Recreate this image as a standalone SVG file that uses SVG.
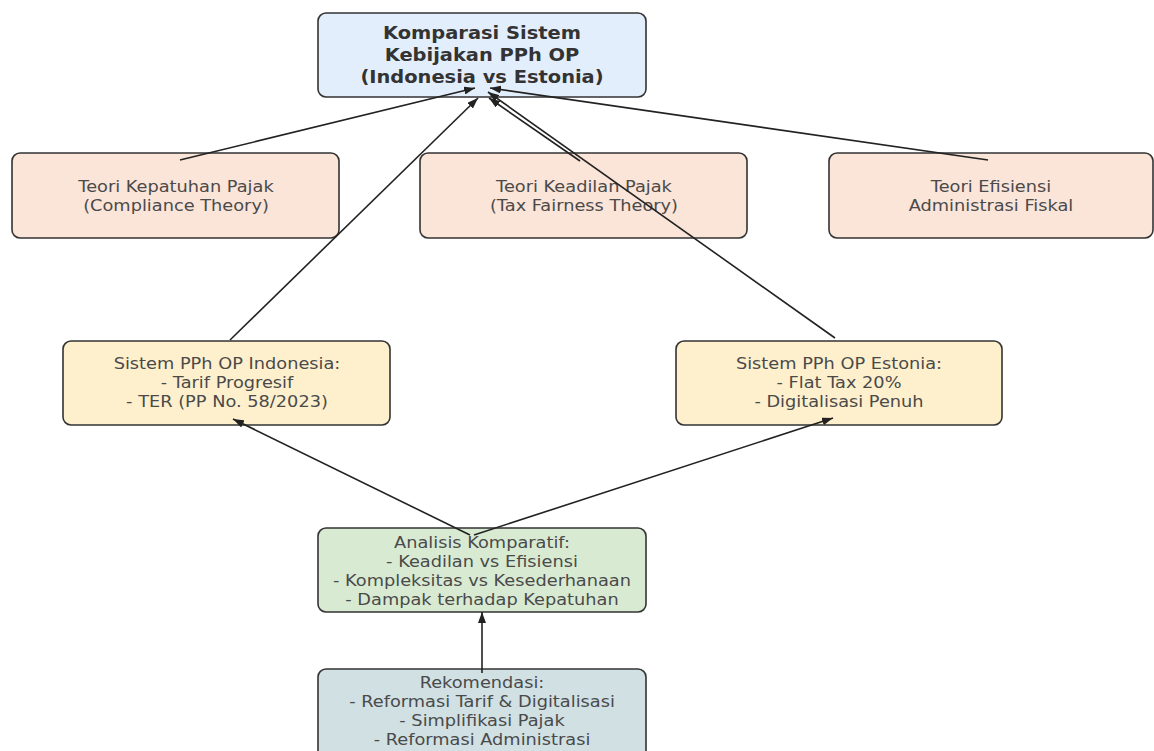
<svg xmlns="http://www.w3.org/2000/svg" width="1154" height="751" viewBox="0 0 1154 751">
<style>
.box{stroke:#333;stroke-width:1.6}
.t{font-family:"DejaVu Sans",sans-serif;font-size:16px;fill:#4a4a4a;text-anchor:middle}
.tb{font-family:"DejaVu Sans",sans-serif;font-size:18px;font-weight:bold;fill:#333;text-anchor:middle}
.e{stroke:#222;stroke-width:1.6;fill:none;marker-end:url(#ah)}
</style>
<defs>
<marker id="ah" markerUnits="userSpaceOnUse" markerWidth="12" markerHeight="8" refX="11" refY="4" orient="auto">
<path d="M0,0 L11,4 L0,8 z" fill="#222"/>
</marker>
</defs>
<rect width="1154" height="751" fill="#fff"/>
<g id="top">
<rect class="box" x="318" y="13" width="328" height="84" rx="8" fill="#e3eefc"/>
<text class="tb" transform="translate(482,39) scale(1.08,1)">Komparasi Sistem</text>
<text class="tb" transform="translate(482,61) scale(1.08,1)">Kebijakan PPh OP</text>
<text class="tb" transform="translate(482,83) scale(1.08,1)">(Indonesia vs Estonia)</text>
</g>
<g id="kepatuhan">
<rect class="box" x="12" y="153" width="327" height="85" rx="8" fill="#fbe4d8"/>
<text class="t" transform="translate(176,192) scale(1.11,1)">Teori Kepatuhan Pajak</text>
<text class="t" transform="translate(176,211) scale(1.11,1)">(Compliance Theory)</text>
</g>
<g id="keadilan">
<rect class="box" x="420" y="153" width="327" height="85" rx="8" fill="#fbe4d8"/>
<text class="t" transform="translate(584,192) scale(1.11,1)">Teori Keadilan Pajak</text>
<text class="t" transform="translate(584,211) scale(1.11,1)">(Tax Fairness Theory)</text>
</g>
<g id="efisiensi">
<rect class="box" x="829" y="153" width="324" height="85" rx="8" fill="#fbe4d8"/>
<text class="t" transform="translate(991,192) scale(1.11,1)">Teori Efisiensi</text>
<text class="t" transform="translate(991,211) scale(1.11,1)">Administrasi Fiskal</text>
</g>
<g id="indonesia">
<rect class="box" x="63" y="341" width="327" height="84" rx="8" fill="#fef0cd"/>
<text class="t" transform="translate(227,369) scale(1.11,1)">Sistem PPh OP Indonesia:</text>
<text class="t" transform="translate(227,388) scale(1.11,1)">- Tarif Progresif</text>
<text class="t" transform="translate(227,407) scale(1.11,1)">- TER (PP No. 58/2023)</text>
</g>
<g id="estonia">
<rect class="box" x="676" y="341" width="326" height="84" rx="8" fill="#fef0cd"/>
<text class="t" transform="translate(839,369) scale(1.11,1)">Sistem PPh OP Estonia:</text>
<text class="t" transform="translate(839,388) scale(1.11,1)">- Flat Tax 20%</text>
<text class="t" transform="translate(839,407) scale(1.11,1)">- Digitalisasi Penuh</text>
</g>
<g id="analisis">
<rect class="box" x="318" y="528" width="328" height="84" rx="8" fill="#d9ead3"/>
<text class="t" transform="translate(482,548) scale(1.11,1)">Analisis Komparatif:</text>
<text class="t" transform="translate(482,567) scale(1.11,1)">- Keadilan vs Efisiensi</text>
<text class="t" transform="translate(482,586) scale(1.11,1)">- Kompleksitas vs Kesederhanaan</text>
<text class="t" transform="translate(482,605) scale(1.11,1)">- Dampak terhadap Kepatuhan</text>
</g>
<g id="rekomendasi">
<rect class="box" x="318" y="669" width="328" height="90" rx="8" fill="#d0e0e3"/>
<text class="t" transform="translate(482,688) scale(1.11,1)">Rekomendasi:</text>
<text class="t" transform="translate(482,707) scale(1.11,1)">- Reformasi Tarif &amp; Digitalisasi</text>
<text class="t" transform="translate(482,726) scale(1.11,1)">- Simplifikasi Pajak</text>
<text class="t" transform="translate(482,745) scale(1.11,1)">- Reformasi Administrasi</text>
</g>
<g id="connectors">
<line class="e" x1="180" y1="160" x2="475" y2="88"/>
<line class="e" x1="580" y1="161" x2="489" y2="98"/>
<line class="e" x1="988" y1="160" x2="490" y2="88"/>
<line class="e" x1="230" y1="340" x2="478" y2="98"/>
<line class="e" x1="835" y1="338" x2="488" y2="92"/>
<line class="e" x1="470" y1="535" x2="233" y2="419"/>
<line class="e" x1="474" y1="535" x2="833" y2="418"/>
<line class="e" x1="482" y1="673" x2="482" y2="612"/>
</g>
</svg>
